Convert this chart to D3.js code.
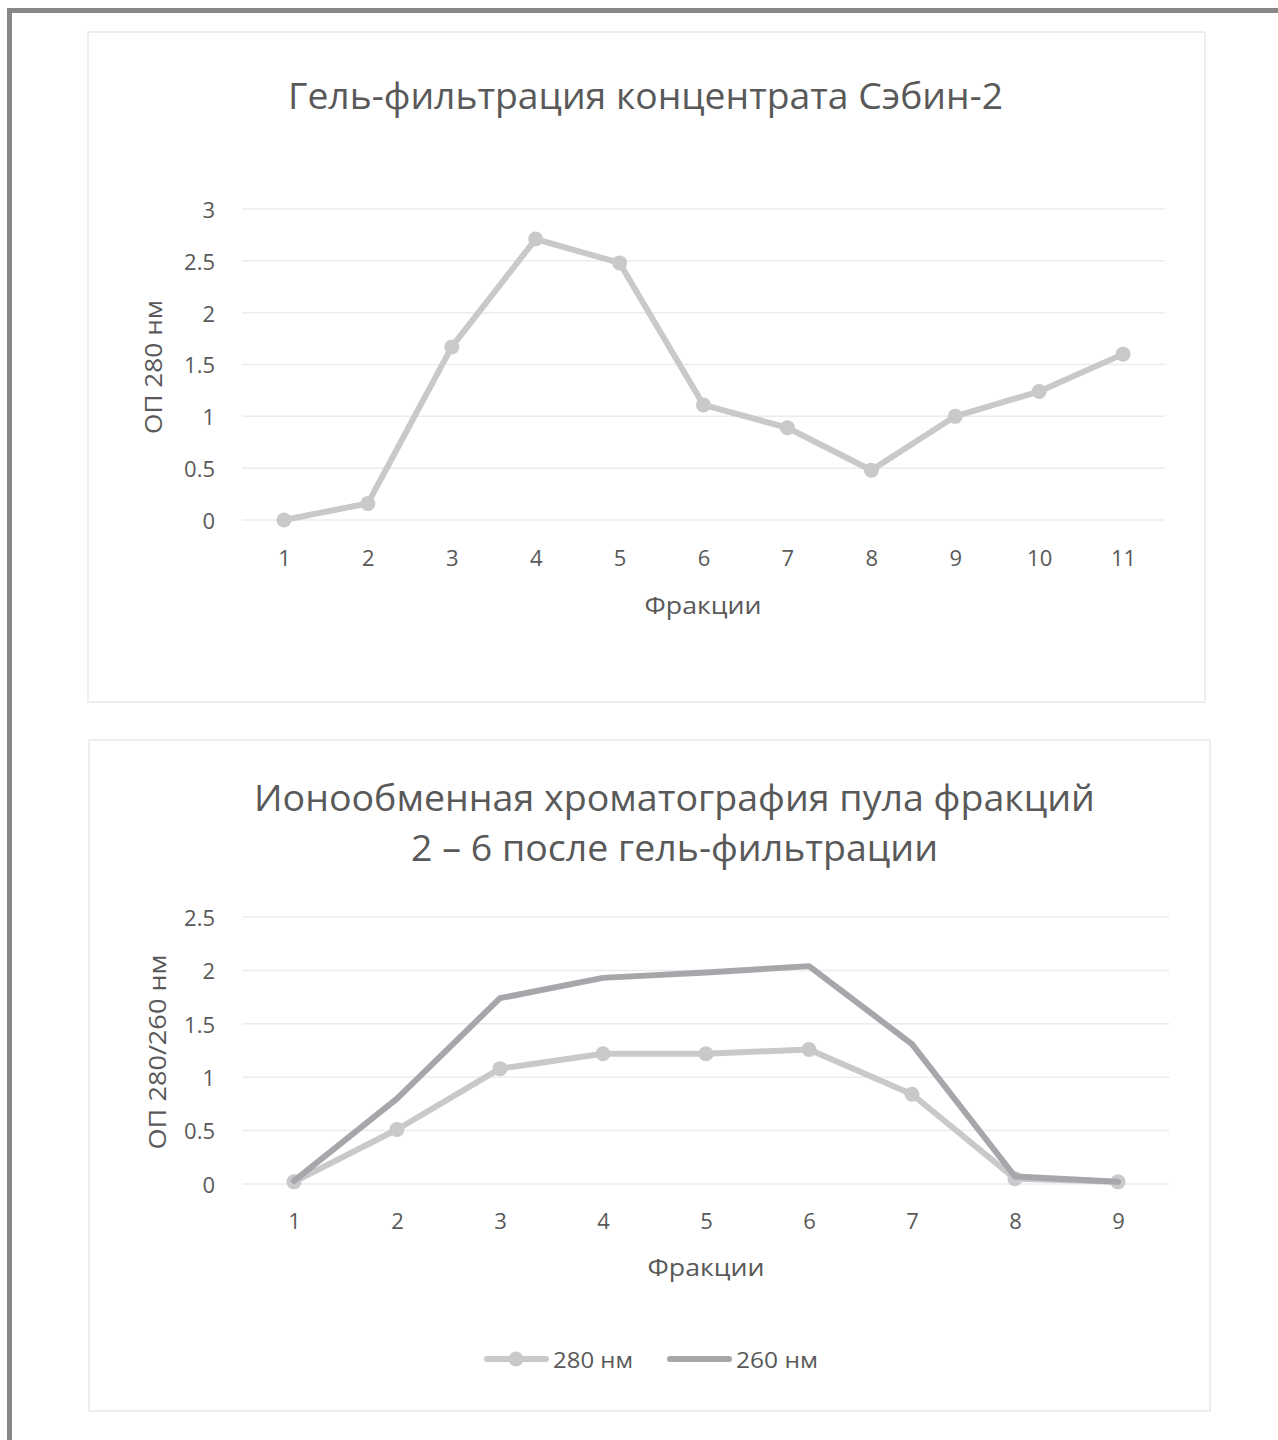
<!DOCTYPE html>
<html><head><meta charset="utf-8">
<script src="https://cdn.jsdelivr.net/npm/d3@7"></script>
<style>body{margin:0;background:#fff}svg{display:block}</style>
</head><body>
<script>
// ---- data ----
const fractions1 = ["1","2","3","4","5","6","7","8","9","10","11"];
const od280_gel = [0, 0.16, 1.67, 2.71, 2.48, 1.11, 0.89, 0.48, 1.0, 1.24, 1.6];
const yTicks1 = [0, 0.5, 1, 1.5, 2, 2.5, 3];

const fractions2 = ["1","2","3","4","5","6","7","8","9"];
const od280_ion = [0.02, 0.51, 1.08, 1.22, 1.22, 1.26, 0.84, 0.05, 0.02];
const od260_ion = [0.03, 0.80, 1.74, 1.93, 1.98, 2.04, 1.31, 0.07, 0.02];
const yTicks2 = [0, 0.5, 1, 1.5, 2, 2.5];

const title1 = "Гель-фильтрация концентрата Сэбин-2";
const title2a = "Ионообменная хроматография пула фракций";
const title2b = "2 – 6 после гель-фильтрации";
const xTitle = "Фракции";
const yTitle1 = "ОП 280 нм";
const yTitle2 = "ОП 280/260 нм";
const seriesNames = ["280 нм", "260 нм"];

const C280 = "#c8c9cb", C260 = "#a6a7aa", TXT = "#595959", GRID = "#ececec";
const FONT = "'Open Sans', 'Noto Sans', sans-serif";

const svg = d3.select("body").append("svg").attr("width",1278).attr("height",1440)
  .style("font-family", FONT);

// outer frame (top + left)
svg.append("rect").attr("x",7).attr("y",8).attr("width",1271).attr("height",5).attr("fill","#878787");
svg.append("rect").attr("x",7).attr("y",8).attr("width",5).attr("height",1432).attr("fill","#878787");

function chartBox(x,y,w,h){
  svg.append("rect").attr("x",x).attr("y",y).attr("width",w).attr("height",h)
    .attr("fill","#fff").attr("stroke","#e9e9e9").attr("stroke-width",1.5);
}

function drawChart(opts){
  const g = svg.append("g");
  const x = d3.scalePoint().domain(opts.cats).range([opts.x0 + opts.step/2, opts.x1 - opts.step/2]);
  const y = d3.scaleLinear().domain([0, opts.ymax]).range([opts.y0, opts.y1]);
  // grid
  g.selectAll("line.grid").data(opts.yticks).join("line")
    .attr("x1",opts.x0).attr("x2",opts.x1).attr("y1",d=>y(d)).attr("y2",d=>y(d))
    .attr("stroke",GRID).attr("stroke-width",1.5);
  // y axis labels
  const ya = d3.axisLeft(y).tickValues(opts.yticks).tickSize(0).tickPadding(0).tickFormat(d=>String(d));
  const yg = g.append("g").attr("transform",`translate(${opts.ylabX},0)`).call(ya);
  yg.select(".domain").remove();
  yg.selectAll("text").attr("fill",TXT).style("font-size","22px").style("font-family",FONT).attr("dy","0.38em");
  // x axis labels
  const xa = d3.axisBottom(x).tickSize(0).tickPadding(0);
  const xg = g.append("g").attr("transform",`translate(0,${opts.xlabY})`).call(xa);
  xg.select(".domain").remove();
  xg.selectAll("text").attr("fill",TXT).style("font-size","22px").style("font-family",FONT).attr("dy","0.38em");
  // axis titles
  g.append("text").attr("x",opts.xTitleX).attr("y",opts.xTitleY).attr("text-anchor","middle")
    .attr("dy","0.38em").attr("fill",TXT).style("font-size","24px")
    .attr("textLength",117).attr("lengthAdjust","spacingAndGlyphs").text(xTitle);
  g.append("text").attr("transform",`translate(${opts.yTitleX},${opts.yTitleY}) rotate(-90)`)
    .attr("text-anchor","middle").attr("dy","0.38em").attr("fill",TXT).style("font-size","24px")
    .attr("textLength",opts.yTitleLen).attr("lengthAdjust","spacingAndGlyphs").text(opts.yTitle);
  // series
  opts.series.forEach(s=>{
    const line = d3.line().x((d,i)=>x(opts.cats[i])).y(d=>y(d));
    g.append("path").datum(s.values).attr("d",line).attr("fill","none")
      .attr("stroke",s.color).attr("stroke-width",6).attr("stroke-linejoin","round").attr("stroke-linecap","round");
    if(s.markers){
      g.selectAll(null).data(s.values).join("circle")
        .attr("cx",(d,i)=>x(opts.cats[i])).attr("cy",d=>y(d)).attr("r",7.5).attr("fill",s.color);
    }
  });
  return {x,y};
}

// Chart 1
chartBox(88,32,1117,670);
svg.append("text").attr("x",645.5).attr("y",109).attr("text-anchor","middle").attr("fill",TXT)
  .style("font-size","36px").attr("textLength",715).attr("lengthAdjust","spacingAndGlyphs").text(title1);
drawChart({cats:fractions1, x0:242, x1:1165, step:(1165-242)/11, y0:520, y1:209, ymax:3,
  yticks:yTicks1, ylabX:215, xlabY:558, xTitleX:703, xTitleY:605, yTitleX:153, yTitleY:367,
  yTitle:yTitle1, yTitleLen:134, series:[{values:od280_gel, color:C280, markers:true}]});

// Chart 2
chartBox(89,740,1121,671);
svg.append("text").attr("x",674.5).attr("y",811).attr("text-anchor","middle").attr("fill",TXT)
  .style("font-size","36px").attr("textLength",841).attr("lengthAdjust","spacingAndGlyphs").text(title2a);
svg.append("text").attr("x",674.5).attr("y",861).attr("text-anchor","middle").attr("fill",TXT)
  .style("font-size","36px").attr("textLength",527).attr("lengthAdjust","spacingAndGlyphs").text(title2b);
drawChart({cats:fractions2, x0:242.5, x1:1169.5, step:(1169.5-242.5)/9, y0:1184, y1:917, ymax:2.5,
  yticks:yTicks2, ylabX:215, xlabY:1221, xTitleX:706, xTitleY:1267, yTitleX:157, yTitleY:1052,
  yTitle:yTitle2, yTitleLen:195, series:[{values:od280_ion, color:C280, markers:true},{values:od260_ion, color:C260, markers:false}]});

// legend
const leg = svg.append("g");
const legItems = [{name:seriesNames[0], color:C280, x:484, marker:true, len:80},{name:seriesNames[1], color:C260, x:667, marker:false, len:82}];
legItems.forEach(it=>{
  leg.append("line").attr("x1",it.x+3).attr("x2",it.x+62).attr("y1",1359).attr("y2",1359)
    .attr("stroke",it.color).attr("stroke-width",6).attr("stroke-linecap","round");
  if(it.marker) leg.append("circle").attr("cx",it.x+32).attr("cy",1359).attr("r",7.5).attr("fill",it.color);
  leg.append("text").attr("x",it.x+69).attr("y",1360).attr("dy","0.38em").attr("fill",TXT)
    .style("font-size","22px").attr("textLength",it.len).attr("lengthAdjust","spacingAndGlyphs").text(it.name);
});
</script>
</body></html>
